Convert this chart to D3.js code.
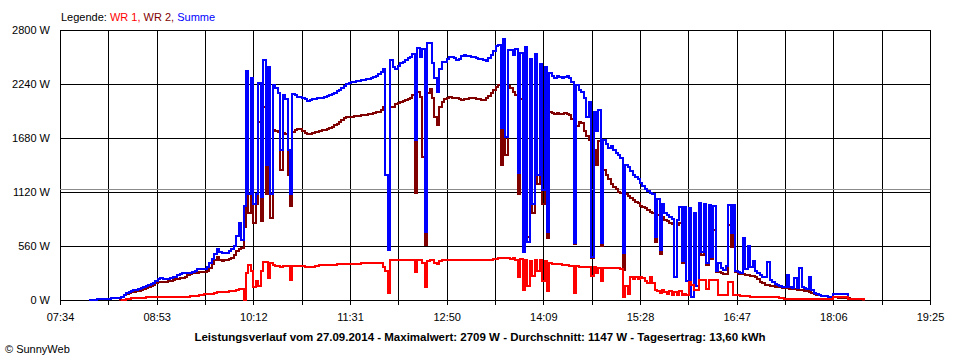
<!DOCTYPE html>
<html><head><meta charset="utf-8">
<script src="https://cdn.jsdelivr.net/npm/d3@7"></script>
<style>
body{margin:0;background:#fff}
svg{display:block}
text{font-family:"Liberation Sans",Arial,sans-serif}
</style>
</head><body><svg id="c" width="960" height="360"></svg>
<script>
// ---- data ----
const startTime = "07:58";     // first sample
const stepMinutes = 2;         // sampling interval
const xTickLabels = ["07:34","08:53","10:12","11:31","12:50","14:09","15:28","16:47","18:06","19:25"];
const yTicks = [0,560,1120,1680,2240,2800];
const averageW = 1147;
const titleText = "Leistungsverlauf vom 27.09.2014 - Maximalwert: 2709 W - Durchschnitt: 1147 W - Tagesertrag: 13,60 kWh";
const seriesNames = ["WR 1", "WR 2", "Summe"];

const summe = [
5,0,0,8,10,10,12,12,15,18,
18,18,20,30,55,70,85,90,100,105,
115,120,135,145,160,170,180,195,215,225,
215,215,220,225,235,240,255,265,277,280,
280,285,287,300,318,318,320,325,345,380,
430,480,530,500,490,485,490,505,530,555,
660,800,620,970,2380,1100,2300,1000,1100,2250,
1070,2490,1400,2420,1100,2230,2200,2150,1560,2130,
2080,1560,1100,2140,2130,2110,2110,2100,2080,2067,
2070,2080,2085,2090,2091,2100,2110,2120,2126,2140,
2150,2165,2180,2195,2215,2240,2255,2262,2265,2270,
2274,2280,2285,2290,2295,2300,2310,2325,2345,2360,
2400,1296,518,2489,2420,2400,2430,2455,2470,2489,
2505,2524,2550,1659,2610,2524,2600,708,2662,2662,
2455,2300,2160,2400,2472,2472,2500,2524,2524,2510,
2489,2500,2530,2541,2535,2530,2525,2524,2510,2500,
2495,2489,2480,2510,2541,2580,2630,2645,1780,2709,
1694,2593,2593,2541,2600,1313,2560,501,2627,600,
2500,1000,2550,1300,2450,1140,2420,708,2350,2320,
2300,2320,2310,2300,2310,2320,2300,2260,588,2230,
2180,2160,2100,1900,2050,449,1950,1750,1970,590,
1659,1620,1580,1600,1556,1520,1500,1470,487,1400,
1380,1340,1300,1280,1250,1210,1180,1150,1130,1106,
1100,650,1050,520,1000,900,880,860,840,242,
830,967,400,967,200,950,30,900,150,1003,
500,1000,380,990,450,970,300,380,330,311,
350,985,700,985,300,290,280,643,320,560,
340,400,300,280,260,240,235,397,207,190,
170,160,145,140,138,259,130,128,228,124,
330,130,120,110,242,100,70,60,50,45,
40,38,35,34,59,59,59,59,59,59,
7,7,7,7,7,7,7,7
];

const wr2 = [
null,null,null,null,null,null,null,null,null,null,
null,null,5,30,55,62,70,80,85,90,
95,100,115,125,140,150,160,173,185,190,
190,190,195,200,210,215,220,225,230,240,
255,270,277,280,285,287,287,290,305,330,
370,420,449,420,407,410,415,425,440,470,
510,530,540,760,1900,900,1850,800,1000,1850,
820,2000,1100,1900,850,1760,1750,1740,1350,1730,
1720,1300,980,1740,1760,1770,1770,1750,1730,1722,
1722,1730,1740,1745,1755,1760,1765,1775,1780,1795,
1810,1830,1850,1870,1885,1894,1898,1900,1905,1908,
1912,1915,1918,1920,1925,1930,1935,1945,1953,1975,
1998,1296,591,2000,1998,2030,2046,2057,2065,2075,
2085,2091,2130,1106,2160,2108,1486,570,2150,2185,
2100,1900,1815,2000,2057,2080,2100,2108,2100,2095,
2090,2080,2074,2080,2085,2090,2095,2090,2085,2080,
2078,2074,2090,2120,2143,2180,2212,2225,1400,2247,
1500,2220,2195,2160,2126,1100,2080,590,2060,650,
1950,900,2000,1200,1950,1000,1930,640,1950,1935,
1930,1935,1925,1930,1935,1925,1920,1880,580,1800,
1850,1832,1750,1700,1659,440,1560,1400,1650,560,
1348,1300,1250,1200,1175,1150,1120,1106,311,1100,
1080,1060,1040,1020,1003,980,967,950,930,910,
900,600,880,480,860,830,820,800,790,240,
780,795,380,795,200,780,30,760,150,780,
470,760,360,740,430,725,290,294,280,270,
265,780,550,750,290,270,265,270,260,255,
250,245,240,215,190,175,160,155,150,145,
140,135,130,125,124,120,118,115,110,105,
104,100,95,90,85,75,65,55,50,45,
40,38,35,33,30,28,25,25,22,20,
18,15,12,10,8,8,5,5
];

const wr1 = [
null,null,null,null,null,null,null,null,null,null,
null,null,null,0,5,10,15,17,20,20,
22,25,25,28,28,28,28,30,30,30,
30,32,32,33,35,35,35,35,35,36,
36,38,40,42,45,50,55,60,62,62,
65,70,80,80,80,85,85,90,93,95,
100,110,110,0,277,363,300,140,200,150,
300,397,390,230,380,360,355,350,345,350,
352,350,207,350,352,352,350,348,345,345,
345,345,350,355,360,363,363,363,365,365,
368,370,370,372,373,373,375,375,376,377,
378,380,380,380,381,382,383,384,385,380,
340,300,69,415,415,415,415,415,412,415,
415,415,415,294,415,415,380,138,400,415,
410,380,370,400,415,415,415,413,415,415,
415,415,415,415,413,415,415,415,415,415,
415,415,415,418,420,425,428,432,432,432,
432,432,430,432,420,240,430,104,420,150,
400,250,420,300,410,200,400,90,380,375,
375,372,370,365,365,360,355,350,69,350,
345,345,345,340,345,250,340,280,330,200,
330,330,328,328,328,328,328,325,30,150,
60,242,220,242,220,240,230,200,180,240,
175,104,90,70,100,80,60,90,55,80,
50,90,52,60,52,190,160,104,104,207,
207,207,110,207,207,207,207,52,52,52,
52,190,190,52,52,52,41,40,38,37,
36,35,35,34,33,32,32,31,30,30,
30,30,17,17,15,12,10,10,10,10,
10,10,10,10,10,10,10,10,10,10,
10,10,10,10,35,35,35,35,35,35,
7,7,7,7,7,7,7,7
];

// ---- drawing ----
const toMin = s => { const [h,m] = s.split(":").map(Number); return h*60+m; };
const fmt = m => String(Math.floor(m/60)).padStart(2,"0")+":"+String(Math.round(m%60)).padStart(2,"0");
const t0 = toMin(startTime);
const L=60, R=930, T=30, B=300;
const svg = d3.select("#c");
const x = d3.scaleLinear().domain([toMin(xTickLabels[0]), toMin(xTickLabels[xTickLabels.length-1])]).range([L,R]);
const y = d3.scaleLinear().domain([0,2800]).range([B,T]);

// vertical grid: every labelled tick plus midpoints
const labelMins = xTickLabels.map(toMin);
const gridMins = [];
labelMins.forEach((m,i)=>{ gridMins.push(m); if(i<labelMins.length-1) gridMins.push((m+labelMins[i+1])/2); });

const grid = svg.append("g").attr("shape-rendering","crispEdges").attr("stroke","#000").attr("stroke-width",1);
grid.selectAll("line.v").data(gridMins).join("line")
  .attr("x1",d=>Math.round(x(d))+0.5).attr("x2",d=>Math.round(x(d))+0.5)
  .attr("y1",T).attr("y2",B+5);
grid.selectAll("line.h").data(yTicks).join("line")
  .attr("x1",L).attr("x2",R+1)
  .attr("y1",d=>Math.round(y(d))+0.5).attr("y2",d=>Math.round(y(d))+0.5);

// average line
svg.append("line").attr("shape-rendering","crispEdges")
  .attr("x1",L).attr("x2",R).attr("y1",Math.round(y(averageW))+0.5).attr("y2",Math.round(y(averageW))+0.5)
  .attr("stroke","#8c8c8c").attr("stroke-width",1);

// y axis labels
const yAxis = d3.axisLeft(y).tickValues(yTicks).tickSize(0).tickPadding(10).tickFormat(d=>d+" W");
const gy = svg.append("g").attr("transform",`translate(${L},0)`).call(yAxis);
gy.select(".domain").remove();
gy.selectAll("text").attr("font-size","11px").attr("fill","#000").attr("font-family","Liberation Sans, Arial, sans-serif");

// x axis labels
const xAxis = d3.axisBottom(x).tickValues(labelMins).tickSize(0).tickPadding(13).tickFormat(fmt);
const gx = svg.append("g").attr("transform",`translate(0,${B})`).call(xAxis);
gx.select(".domain").remove();
gx.selectAll("text").attr("font-size","11px").attr("fill","#000").attr("font-family","Liberation Sans, Arial, sans-serif");

// series (drawing order: WR 2, Summe, WR 1)
const mk = arr => arr.map((v,i)=>({t:t0+i*stepMinutes, v}));
const line = d3.line().defined(d=>d.v!=null)
  .x(d=>Math.round(x(d.t))).y(d=>Math.round(y(d.v))).curve(d3.curveStepAfter);
const series = [
  {data:mk(wr2), color:"#800000"},
  {data:mk(summe), color:"#0000ff"},
  {data:mk(wr1), color:"#ff0000"}
];
svg.append("g").attr("shape-rendering","crispEdges").selectAll("path").data(series).join("path")
  .attr("d",d=>line(d.data)).attr("fill","none").attr("stroke",d=>d.color).attr("stroke-width",2);

// legend
const leg = svg.append("text").attr("x",61).attr("y",21).attr("font-size","11px");
leg.append("tspan").attr("fill","#000").text("Legende: ");
leg.append("tspan").attr("fill","#ff0000").text(seriesNames[0]+", ");
leg.append("tspan").attr("fill","#800000").text(seriesNames[1]+", ");
leg.append("tspan").attr("fill","#0000ff").text(seriesNames[2]);

// title
svg.append("text").attr("x",480).attr("y",341).attr("text-anchor","middle")
  .attr("font-size","11.5px").attr("font-weight","bold").attr("fill","#000").text(titleText);

// copyright
svg.append("text").attr("x",5).attr("y",353).attr("font-size","11px").attr("fill","#000").text("\u00A9 SunnyWeb");
</script>
</body></html>
